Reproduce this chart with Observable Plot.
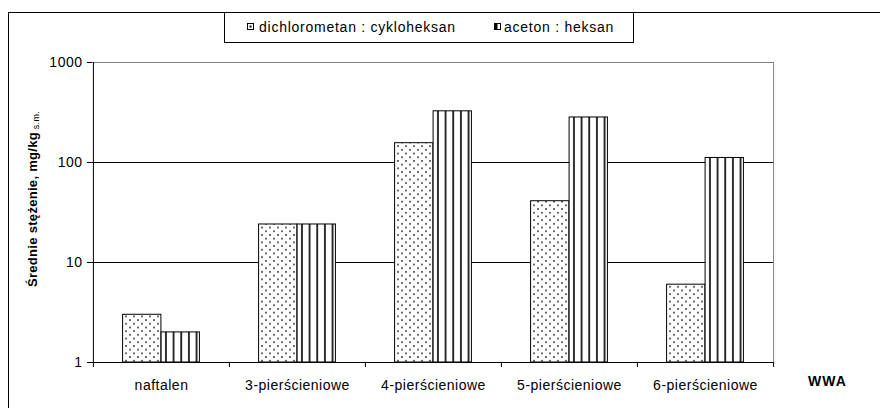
<!DOCTYPE html>
<html><head><meta charset="utf-8">
<script src="https://cdn.jsdelivr.net/npm/d3@7"></script>
<script src="https://cdn.jsdelivr.net/npm/@observablehq/plot@0.6"></script>
<style>
html,body{margin:0;padding:0;background:#fff;overflow:hidden;}
#wrap{position:relative;width:880px;height:408px;overflow:hidden;font-family:"Liberation Sans",Arial,sans-serif;}
#outer{position:absolute;left:8px;top:12px;width:900px;height:420px;border:1px solid #000;box-sizing:border-box;}
#chart{position:absolute;left:0;top:0;width:880px;height:408px;}
#chart svg text{letter-spacing:0.5px;}
#legend{position:absolute;left:224px;top:12px;width:410px;height:31px;border:1px solid #000;box-sizing:border-box;background:#fff;font-size:14px;letter-spacing:0.75px;color:#000;}
#legend .it{position:absolute;top:0;height:29px;line-height:29px;white-space:nowrap;}
#legend svg{position:absolute;}
</style>
</head><body>
<div id="wrap">
  <div id="outer"></div>
  <div id="chart"></div>
  <div id="legend"></div>
</div>
<script>
const categories = ["naftalen", "3-pierścieniowe", "4-pierścieniowe", "5-pierścieniowe", "6-pierścieniowe"];
const seriesNames = ["dichlorometan : cykloheksan", "aceton : heksan"];
const dcmValues = [3, 24, 156, 41, 6];
const acetonValues = [2, 24, 325, 282, 111];
const yTicks = [1, 10, 100, 1000];
const yLabel = "Średnie stężenie, mg/kg";
const yLabelSub = "s.m.";
const xLabel = "WWA";

const W = 880, H = 408, ML = 92, MR = 107, MT = 62, MB = 46;
const bw = (W - ML - MR) / categories.length;
const barW = 38.5;
const pad = (bw - 2 * barW) / 2;

const table = [];
categories.forEach((c, i) => {
  table.push({cat: c, series: seriesNames[0], value: dcmValues[i]});
  table.push({cat: c, series: seriesNames[1], value: acetonValues[i]});
});

const plot = Plot.plot({
  width: W, height: H,
  marginLeft: ML, marginRight: MR, marginTop: MT, marginBottom: MB,
  style: {fontFamily: "'Liberation Sans', Arial, sans-serif", fontSize: "14px", background: "transparent", color: "#000"},
  x: {type: "band", domain: categories, padding: 0, label: null},
  y: {type: "log", domain: [yTicks[0], yTicks[yTicks.length - 1]], label: null},
  marks: [
    Plot.gridY([yTicks[1], yTicks[2]], {stroke: "#000", strokeOpacity: 1}),
    Plot.ruleY([yTicks[yTicks.length - 1]], {stroke: "#808080"}),
    Plot.ruleX([categories[categories.length - 1]], {dx: bw / 2, stroke: "#808080"}),
    Plot.barY(table.filter(d => d.series === seriesNames[0]), {
      x: "cat", y1: yTicks[0], y2: "value",
      insetLeft: pad, insetRight: bw - pad - barW,
      fill: "url(#dotsPat)", stroke: "#000", strokeWidth: 1
    }),
    Plot.barY(table.filter(d => d.series === seriesNames[1]), {
      x: "cat", y1: yTicks[0], y2: "value",
      insetLeft: pad + barW, insetRight: pad,
      fill: "url(#stripePat)", stroke: "#000", strokeWidth: 1
    }),
    Plot.ruleY([yTicks[0]], {stroke: "#000"}),
    Plot.ruleX([categories[0]], {dx: -bw / 2, stroke: "#000"}),
    Plot.axisY({ticks: yTicks, tickFormat: d => String(d), tickSize: 5, tickPadding: 5, label: null, fontSize: 14}),
    Plot.axisX({ticks: categories, tickSize: 5, tickFormat: () => "", dx: -bw / 2, label: null}),
    Plot.axisX({ticks: [categories[categories.length - 1]], tickSize: 5, tickFormat: () => "", dx: bw / 2, label: null}),
    Plot.axisX({ticks: categories, tickSize: 0, tickPadding: 18, label: null, fontSize: 14})
  ]
});

const svg = d3.select(plot);
const defs = svg.insert("defs", ":first-child");
const dp = defs.append("pattern").attr("id", "dotsPat").attr("patternUnits", "userSpaceOnUse")
  .attr("width", 8).attr("height", 7.4);
dp.append("rect").attr("width", 8).attr("height", 7.4).attr("fill", "#fff");
dp.append("circle").attr("cx", 2).attr("cy", 1.85).attr("r", 0.9).attr("fill", "#222");
dp.append("circle").attr("cx", 6).attr("cy", 5.55).attr("r", 0.9).attr("fill", "#222");
const sp = defs.append("pattern").attr("id", "stripePat").attr("patternUnits", "objectBoundingBox")
  .attr("patternContentUnits", "objectBoundingBox").attr("width", 0.2).attr("height", 1);
sp.append("rect").attr("width", 0.2).attr("height", 1).attr("fill", "#fff");
sp.append("rect").attr("x", 0.105).attr("width", 0.042).attr("height", 1).attr("fill", "#000");

// y label with subscript
const yl = svg.append("text")
  .attr("transform", "translate(36.5,287) rotate(-90)")
  .attr("text-anchor", "start")
  .attr("font-weight", "bold").attr("font-size", 13).attr("fill", "#000")
  .style("letter-spacing", "0.3px");
yl.append("tspan").text(yLabel);
yl.append("tspan").attr("font-size", 9).attr("font-weight", "normal").attr("dy", 2).text(" " + yLabelSub);

svg.append("text").attr("x", 808).attr("y", 386)
  .attr("text-anchor", "start")
  .attr("font-weight", "bold").attr("font-size", 14).attr("fill", "#000")
  .style("letter-spacing", "1px").text(xLabel);

document.getElementById("chart").appendChild(plot);

// legend
const lg = d3.select("#legend");
const items = [
  {name: seriesNames[0], icon: 22, text: 34, kind: "dots"},
  {name: seriesNames[1], icon: 269, text: 279, kind: "stripes"}
];
items.forEach(it => {
  const s = lg.append("svg").attr("width", 7).attr("height", 7)
    .style("left", it.icon + "px").style("top", "10px");
  s.append("rect").attr("x", 0.5).attr("y", 0.5).attr("width", 6).attr("height", 6)
    .attr("fill", "#fff").attr("stroke", "#000");
  if (it.kind === "dots") {
    s.append("rect").attr("x", 2.5).attr("y", 2.5).attr("width", 2).attr("height", 2).attr("fill", "#000");
  } else {
    s.append("rect").attr("x", 1).attr("y", 1).attr("width", 2.5).attr("height", 5).attr("fill", "#000");
  }
  lg.append("div").attr("class", "it").style("left", it.text + "px").text(it.name);
});
</script>
</body></html>
